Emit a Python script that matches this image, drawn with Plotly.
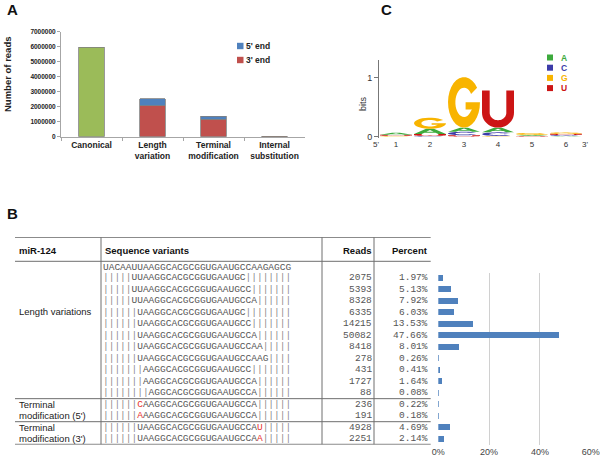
import numpy as np
import plotly.graph_objects as go

W, H = 600, 461

# ---------------- Panel A data ----------------
cat_A = ["Canonical", "Length<br>variation", "Terminal<br>modification", "Internal<br>substitution"]
reads_canonical = [5950000, None, None, None]
reads_3end = [None, 2050000, 1180000, None]
reads_5end = [None, 480000, 200000, None]
reads_internal = [None, None, None, 30000]
yticks_A = [0, 1000000, 2000000, 3000000, 4000000, 5000000, 6000000, 7000000]
legend_A = ["5' end", "3' end"]

# ---------------- Panel C data (sequence logo, bits) ----------------
logo_pos = [1, 2, 3, 4, 5, 6]
logo_A = [0.035, 0.09, 0.07, 0.08, 0.015, 0.01]
logo_C = [0.0, 0.01, 0.06, 0.06, 0.0, 0.015]
logo_G = [0.01, 0.19, 0.86, 0.01, 0.035, 0.025]
logo_U = [0.02, 0.03, 0.02, 0.63, 0.01, 0.02]
logo_xvals = [0.41, 1, 2, 3, 4, 5, 6, 6.56]
logo_xlabels = ["5'", "1", "2", "3", "4", "5", "6", "3'"]
logo_letters = ["A", "C", "G", "U"]

# ---------------- Panel B data ----------------
ref_seq = "UACAAUUAAGGCACGCGGUGAAUGCCAAGAGCG"
variant_seqs = [
    "|||||UUAAGGCACGCGGUGAAUGC||||||||",
    "|||||UUAAGGCACGCGGUGAAUGCC|||||||",
    "|||||UUAAGGCACGCGGUGAAUGCCA||||||",
    "||||||UAAGGCACGCGGUGAAUGC||||||||",
    "||||||UAAGGCACGCGGUGAAUGCC|||||||",
    "||||||UAAGGCACGCGGUGAAUGCCA||||||",
    "||||||UAAGGCACGCGGUGAAUGCCAA|||||",
    "||||||UAAGGCACGCGGUGAAUGCCAAG||||",
    "|||||||AAGGCACGCGGUGAAUGCC|||||||",
    "|||||||AAGGCACGCGGUGAAUGCCA||||||",
    "||||||||AGGCACGCGGUGAAUGCCA||||||",
    "||||||CAAGGCACGCGGUGAAUGCCA||||||",
    "||||||AAAGGCACGCGGUGAAUGCCA||||||",
    "||||||UAAGGCACGCGGUGAAUGCCAU|||||",
    "||||||UAAGGCACGCGGUGAAUGCCAA|||||",
]
modified_index = [None] * 11 + [6, 6, 27, 27]
reads_B = [2075, 5393, 8328, 6335, 14215, 50082, 8418, 278, 431, 1727, 88, 236, 191, 4928, 2251]
percent_B = [1.97, 5.13, 7.92, 6.03, 13.53, 47.66, 8.01, 0.26, 0.41, 1.64, 0.08, 0.22, 0.18, 4.69, 2.14]
rows_B = list(range(1, len(reads_B) + 1))
pct_ticks = [0, 20, 40, 60]
pct_ticktext = ["0%", "20%", "40%", "60%"]
group_labels = [("Length variations", 3.95), ("Terminal", 12), ("modification (5')", 13),
                ("Terminal", 14), ("modification (3')", 15)]
group_lines = [11.5, 13.5]
header_B = ["miR-124", "Sequence variants", "Reads", "Percent"]

# ---------------- colours / fonts ----------------
GREEN, RED, BLUE = "#9BBB59", "#C0504D", "#4F81BD"
LOGO_COL = {"A": "#3DAA3D", "C": "#3C3CA8", "G": "#F8B400", "U": "#CC1515"}
SANS = "Liberation Sans, Arial, sans-serif"
MONO = "Liberation Mono, Courier New, monospace"


def px_x(px):
    return px / W


def px_y(py):
    return 1 - py / H


ROW1_PX, ROW_H = 277.7, 11.52


def row_of(py):
    return 1 + (py - ROW1_PX) / ROW_H


fig = go.Figure()

# ---------------- Panel A traces ----------------
bar_line = dict(color="#7F7F7F", width=0.8)
fig.add_trace(go.Bar(x=cat_A, y=reads_canonical, marker=dict(color=GREEN, line=bar_line),
                     width=0.42, showlegend=False, xaxis="x", yaxis="y", name="Canonical"))
fig.add_trace(go.Bar(x=cat_A, y=reads_3end, marker=dict(color=RED, line=bar_line),
                     width=0.42, showlegend=False, xaxis="x", yaxis="y", name=legend_A[1]))
fig.add_trace(go.Bar(x=cat_A, y=reads_5end, marker=dict(color=BLUE, line=bar_line),
                     width=0.42, showlegend=False, xaxis="x", yaxis="y", name=legend_A[0]))
fig.add_trace(go.Bar(x=cat_A, y=reads_internal, marker=dict(color="#B4683A", line=bar_line),
                     width=0.42, showlegend=False, xaxis="x", yaxis="y", name="Internal"))

# ---------------- Panel B bar trace ----------------
fig.add_trace(go.Bar(x=percent_B, y=rows_B, orientation="h", marker=dict(color=BLUE, line=dict(width=0)),
                     width=0.52, showlegend=False, xaxis="x3", yaxis="y3"))

# ---------------- Panel C logo ----------------
def arc(cx, cy, rx, ry, t0, t1, n=28):
    t = np.radians(np.linspace(t0, t1, n))
    return list(zip(cx + rx * np.cos(t), cy + ry * np.sin(t)))


def glyph(letter):
    if letter == "A":
        outer = [(0, 0), (0.38, 1), (0.62, 1), (1, 0), (0.76, 0), (0.67, 0.27), (0.33, 0.27), (0.24, 0)]
        hole = [(0.385, 0.43), (0.5, 0.79), (0.615, 0.43)]
        return [outer, hole]
    if letter == "C":
        return [arc(0.5, 0.5, 0.5, 0.5, 40, 320) + arc(0.5, 0.5, 0.27, 0.29, 320, 40)]
    if letter == "G":
        outer = arc(0.5, 0.5, 0.5, 0.5, 35, 360)
        bar = [(0.55, 0.5), (0.55, 0.36), (0.75, 0.36)]
        inner = arc(0.5, 0.5, 0.27, 0.29, -35, -325)
        return [outer + bar + inner]
    # U
    outer = [(0, 1)] + arc(0.5, 0.4, 0.5, 0.4, 180, 360) + [(1, 1), (0.76, 1)]
    inner = arc(0.5, 0.4, 0.26, 0.2, 360, 180) + [(0.24, 1)]
    return [outer + inner]


shapes = []
heights = {"A": logo_A, "C": logo_C, "G": logo_G, "U": logo_U}
tops = []
for j, p in enumerate(logo_pos):
    stack = sorted([(heights[L][j], L) for L in logo_letters])
    base = 0.0
    for h, L in stack:
        if h <= 0:
            continue
        path = ""
        for poly in glyph(L):
            pts = [(p - 0.47 + 0.94 * u, base + h * v) for u, v in poly]
            path += "M " + " L ".join(f"{x:.4f},{y:.4f}" for x, y in pts) + " Z "
        shapes.append(dict(type="path", path=path, xref="x2", yref="y2", fillcolor=LOGO_COL[L],
                           line=dict(width=0), layer="above"))
        base += h
    tops.append(base)

fig.add_trace(go.Scatter(x=logo_pos, y=tops, mode="markers", marker=dict(opacity=0),
                         showlegend=False, xaxis="x2", yaxis="y2", hoverinfo="skip"))
fig.add_trace(go.Scatter(x=[0.5], y=[5], mode="markers", marker=dict(opacity=0),
                         showlegend=False, xaxis="x4", yaxis="y4", hoverinfo="skip"))

annotations = []


def ann(x, y, text, size, xanchor="left", color="#222", family=SANS, xref="paper", yref="paper", **kw):
    d = dict(x=x, y=y, text=text, xref=xref, yref=yref, xanchor=xanchor, yanchor="middle",
             showarrow=False, font=dict(size=size, color=color, family=family),
             borderpad=0, borderwidth=0)
    d.update(kw)
    annotations.append(d)


# panel labels
ann(px_x(7), px_y(10), "<b>A</b>", 15, color="#111")
ann(px_x(7), px_y(213), "<b>B</b>", 15, color="#111")
ann(px_x(381), px_y(10), "<b>C</b>", 15, color="#111")

# Panel A y title and legend
ann(px_x(7), px_y(74), "<b>Number of reads</b>", 9.5, xanchor="center", textangle=-90)
for i, (lab, col) in enumerate(zip(legend_A, [BLUE, RED])):
    yc = 46 + 14 * i
    shapes.append(dict(type="rect", xref="paper", yref="paper", x0=px_x(237), x1=px_x(243.5),
                       y0=px_y(yc + 3.2), y1=px_y(yc - 3.2), fillcolor=col, line=dict(width=0)))
    ann(px_x(246), px_y(yc), f"<b>{lab}</b>", 8.5)

# Panel C legend and bits label
for i, L in enumerate(logo_letters):
    yc = 57.5 + 10.2 * i
    shapes.append(dict(type="rect", xref="paper", yref="paper", x0=px_x(547), x1=px_x(553),
                       y0=px_y(yc + 3), y1=px_y(yc - 3), fillcolor=LOGO_COL[L], line=dict(width=0)))
    ann(px_x(561), px_y(yc), f"<b>{L}</b>", 8.5, color=LOGO_COL[L])
ann(px_x(363), px_y(104), "bits", 9, xanchor="center", textangle=-90, color="#333")

# ---------------- Panel B table ----------------
def seq_markup(s, red_idx):
    """Grey pipes, dark letters, red modified nucleotide."""
    tokens = []
    for k, ch in enumerate(s):
        kind = "red" if k == red_idx else ("pipe" if ch == "|" else "base")
        if tokens and tokens[-1][0] == kind and kind != "red":
            tokens[-1][1] += ch
        else:
            tokens.append([kind, ch])
    colors = {"red": "#E8332E", "pipe": "#8C8C8C", "base": "#555555"}
    return "".join(f'<span style="color:{colors[k]}">{t}</span>' for k, t in tokens)


hy = row_of(250)
ann(px_x(19), hy, f"<b>{header_B[0]}</b>", 9.5, yref="y4", color="#111")
ann(px_x(104.5), hy, f"<b>{header_B[1]}</b>", 9.5, yref="y4", color="#111")
ann(px_x(371.5), hy, f"<b>{header_B[2]}</b>", 9.5, xanchor="right", yref="y4", color="#111")
ann(px_x(428.5), hy, f"<b>{header_B[3]}</b>", 9.5, xanchor="right", yref="y4", color="#111")

ann(px_x(102.5), row_of(267.5), ref_seq, 9.5, yref="y4", color="#555", family=MONO)
for r, s, m, rd, pc in zip(rows_B, variant_seqs, modified_index, reads_B, percent_B):
    ann(px_x(102.5), r, seq_markup(s, m), 9.5, yref="y4", color="#555", family=MONO)
    ann(px_x(371.5), r, str(rd), 9.5, xanchor="right", yref="y4", color="#555", family=MONO)
    ann(px_x(428.5), r, f"{pc:.2f}%", 9.5, xanchor="right", yref="y4", color="#555", family=MONO)
for lab, r in group_labels:
    ann(px_x(18.5), r, lab, 9.5, yref="y4", color="#222")

line_style = dict(color="#6E6E6E", width=1)
for yv in [row_of(237.3), row_of(261.3)] + group_lines + [row_of(444.3)]:
    shapes.append(dict(type="line", xref="paper", yref="y4", x0=px_x(15), x1=px_x(430.7),
                       y0=yv, y1=yv, line=line_style))
for xp in [101, 322, 374]:
    shapes.append(dict(type="line", xref="paper", yref="y4", x0=px_x(xp), x1=px_x(xp),
                       y0=row_of(237.3), y1=row_of(444.3), line=line_style))

fig.update_layout(
    width=W, height=H, margin=dict(l=0, r=0, t=0, b=0, autoexpand=False),
    paper_bgcolor="white", plot_bgcolor="white",
    barmode="stack", showlegend=False,
    font=dict(family=SANS, color="#222"),
    xaxis=dict(domain=[px_x(61), px_x(305)], anchor="y", type="category", automargin=False,
               showline=True, linecolor="#A6A6A6", ticks="outside", ticklen=3, tickcolor="#A6A6A6",
               tickson="boundaries", showgrid=False,
               tickvals=cat_A, ticktext=[f"<b>{c.replace('<br>', '</b><br><b>')}</b>" for c in cat_A],
               tickfont=dict(size=8.5, color="#222")),
    yaxis=dict(domain=[px_y(136.7), px_y(31.7)], anchor="x", range=[0, 7000000], tickvals=yticks_A,
               tickformat="d", showline=True, linecolor="#A6A6A6", ticks="outside", ticklen=3,
               tickcolor="#A6A6A6", showgrid=False, zeroline=False, automargin=False,
               tickfont=dict(size=6.5, color="#222", weight="bold")),
    xaxis2=dict(domain=[px_x(372.2), px_x(589.8)], anchor="y2", range=[0.3, 6.7], automargin=False,
                tickvals=logo_xvals, ticktext=logo_xlabels, showline=False, showgrid=False,
                zeroline=False, ticks="", tickfont=dict(size=8, color="#333")),
    yaxis2=dict(domain=[px_y(138), px_y(60)], anchor="free", position=px_x(378), range=[-0.026, 1.30],
                tickvals=[0, 1], ticks="outside", ticklen=4, tickcolor="#777", showline=True,
                automargin=False,
                linecolor="#777", showgrid=False, zeroline=False, tickfont=dict(size=9, color="#333")),
    xaxis3=dict(domain=[px_x(438.3), px_x(590.7)], anchor="y3", range=[0, 60], tickvals=pct_ticks,
                ticktext=pct_ticktext, showgrid=True, gridcolor="#D0D0D0", gridwidth=1, zeroline=False,
                showline=False, ticks="", automargin=False,
                tickfont=dict(size=9, color="#444")),
    yaxis3=dict(domain=[px_y(444.7), px_y(273.3)], anchor="x3", automargin=False,
                range=[row_of(444.7), row_of(273.3)], visible=False),
    xaxis4=dict(domain=[0, 0.72], anchor="y4", range=[0, 1], visible=False, automargin=False),
    yaxis4=dict(domain=[px_y(444.7), px_y(237)], anchor="x4", automargin=False,
                range=[row_of(444.7), row_of(237)], visible=False),
    shapes=shapes, annotations=annotations,
)

fig.write_html("out.html", config={"displayModeBar": False},
               post_script="document.body.style.margin='0px';document.body.style.overflow='hidden';")
